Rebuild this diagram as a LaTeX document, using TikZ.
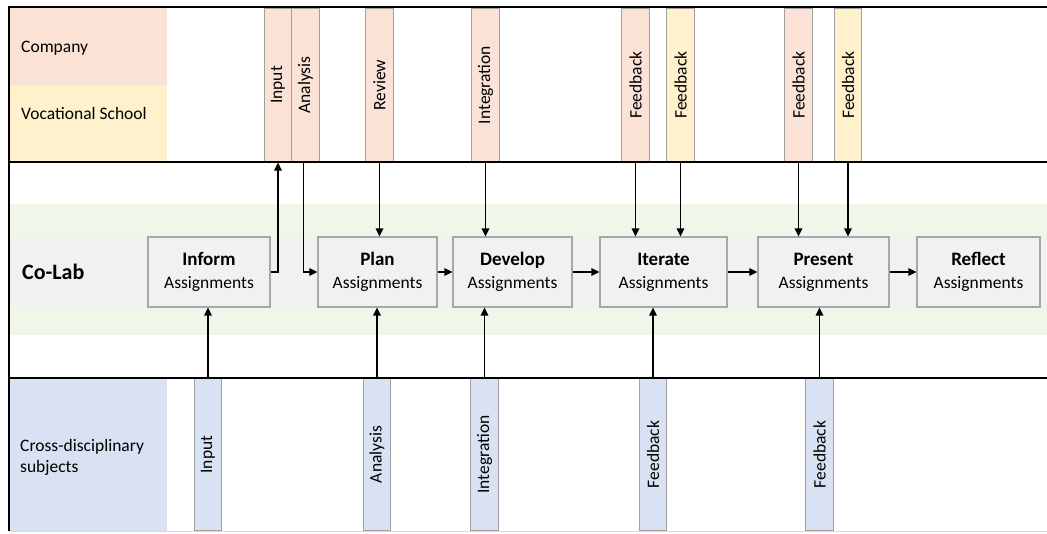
\documentclass[tikz,border=0pt]{standalone}
\usepackage{fontspec}
\setmainfont{Carlito}
\usetikzlibrary{arrows.meta}
\definecolor{pinkC}{HTML}{FAE3D6}
\definecolor{yellowC}{HTML}{FEF1CC}
\definecolor{blueC}{HTML}{D9E2F2}
\definecolor{greenC}{HTML}{EFF6EA}
\definecolor{greyC}{HTML}{F1F1F1}
\definecolor{boxline}{HTML}{A8A8A8}
\definecolor{stripline}{HTML}{A0A0A0}
\tikzset{
  lbl/.style={anchor=west, align=left, inner sep=0pt, font=\fontsize{17.5}{21}\selectfont},
  stripbox/.style={draw=stripline, line width=1.2pt, minimum width=27.5pt, inner sep=0pt, font=\fontsize{17.5}{20}\selectfont},
  topstrip/.style={stripbox, minimum height=154pt},
  botstrip/.style={stripbox, minimum height=153pt, fill=blueC},
  stepbox/.style={draw=boxline, line width=1.2pt, fill=greyC, minimum height=70pt, inner sep=0pt, align=center, font=\fontsize{17.5}{23}\selectfont},
  arr/.style={line width=1.6pt, -{Triangle[length=8pt,width=7.5pt]}},
  frame/.style={line width=2pt, black}
}
\newcommand{\boxtxt}[1]{{\fontsize{19}{23}\selectfont\bfseries #1}\\Assignments}
\begin{document}
\begin{tikzpicture}[x=1pt,y=-1pt]
\useasboundingbox (0,0) rectangle (1047,533);
% background regions
\fill[pinkC] (9,8) rectangle (167,85);
\fill[yellowC] (9,85) rectangle (167,162);
\fill[blueC] (9,378) rectangle (167,531);
\fill[greenC] (9,204) rectangle (1047,335);
\fill[greyC] (9,237) rectangle (1047,307);
% side labels
\node[lbl] (company) at (21,48) {Company};
\node[lbl] (vocschool) at (21,113) {Vocational School};
\node[lbl] (cross) at (20,457) {Cross-disciplinary\\subjects};
\node[anchor=west, inner sep=0pt, font=\fontsize{22}{24}\selectfont\bfseries] (colab) at (22,272) {Co-Lab};
% top strips
\node[topstrip, fill=pinkC] (tin) at (278,85) {\rotatebox{90}{Input}};
\node[topstrip, fill=pinkC] (tan) at (305.5,85) {\rotatebox{90}{Analysis}};
\node[topstrip, fill=pinkC] (trev) at (379.5,85) {\rotatebox{90}{Review}};
\node[topstrip, fill=pinkC] (tint) at (485.5,85) {\rotatebox{90}{Integration}};
\node[topstrip, fill=pinkC] (tfba) at (635.5,85) {\rotatebox{90}{Feedback}};
\node[topstrip, fill=yellowC] (tfbb) at (680.5,85) {\rotatebox{90}{Feedback}};
\node[topstrip, fill=pinkC] (tfbc) at (798.5,85) {\rotatebox{90}{Feedback}};
\node[topstrip, fill=yellowC] (tfbd) at (848,85) {\rotatebox{90}{Feedback}};
% bottom strips
\node[botstrip] (bin) at (208,454.5) {\rotatebox{90}{Input}};
\node[botstrip] (ban) at (377,454.5) {\rotatebox{90}{Analysis}};
\node[botstrip] (bint) at (484.5,454.5) {\rotatebox{90}{Integration}};
\node[botstrip] (bfba) at (653,454.5) {\rotatebox{90}{Feedback}};
\node[botstrip] (bfbb) at (819.5,454.5) {\rotatebox{90}{Feedback}};
% step boxes
\node[stepbox, minimum width=122pt] (inform) at (209,272) {\boxtxt{Inform}};
\node[stepbox, minimum width=119pt] (plan) at (377.5,272) {\boxtxt{Plan}};
\node[stepbox, minimum width=119pt] (develop) at (512.5,272) {\boxtxt{Develop}};
\node[stepbox, minimum width=127pt] (iterate) at (663.5,272) {\boxtxt{Iterate}};
\node[stepbox, minimum width=131pt] (present) at (823.5,272) {\boxtxt{Present}};
\node[stepbox, minimum width=123pt] (reflect) at (978.5,272) {\boxtxt{Reflect}};
% frame
\draw[frame] (8,7) -- (1047,7);
\draw[frame] (9,162) -- (1047,162);
\draw[frame] (9,378) -- (1047,378);
\draw[frame] (9,6) -- (9,531);
\draw[line width=1pt, black!15] (9,531) -- (1047,531);
% arrows
\draw[arr] (inform.east) -| (tin.south);
\draw[arr] ([xshift=-2pt]tan.south) |- (plan.west);
\draw[arr] (trev.south) -- (trev.south |- plan.north);
\draw[arr] (tint.south) -- (tint.south |- develop.north);
\draw[arr] (tfba.south) -- (tfba.south |- iterate.north);
\draw[arr] (tfbb.south) -- (tfbb.south |- iterate.north);
\draw[arr] (tfbc.south) -- (tfbc.south |- present.north);
\draw[arr] (tfbd.south) -- (tfbd.south |- present.north);
\draw[arr] (plan.east) -- (develop.west);
\draw[arr] (develop.east) -- (iterate.west);
\draw[arr] (iterate.east) -- (present.west);
\draw[arr] (present.east) -- (reflect.west);
\draw[arr] (bin.north) -- (bin.north |- inform.south);
\draw[arr] (ban.north) -- (ban.north |- plan.south);
\draw[arr] (bint.north) -- (bint.north |- develop.south);
\draw[arr] (bfba.north) -- (bfba.north |- iterate.south);
\draw[arr] (bfbb.north) -- (bfbb.north |- present.south);
\end{tikzpicture}
\end{document}
